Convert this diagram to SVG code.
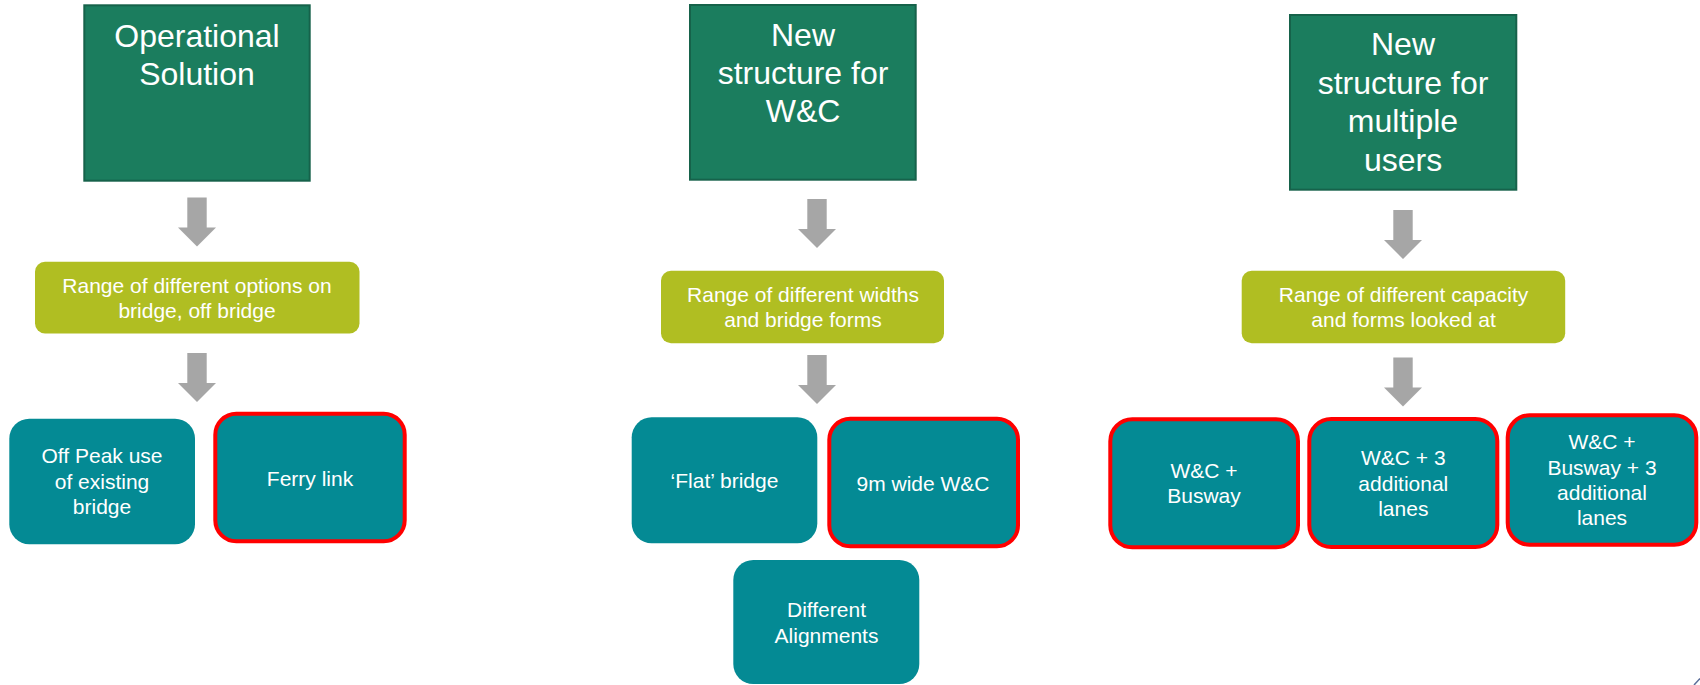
<svg xmlns="http://www.w3.org/2000/svg" width="1700" height="685" viewBox="0 0 1700 685">
<style>
.head{fill:#1B7D5E;stroke:#16624A;stroke-width:2}
.range{fill:#B0BE22}
.opt{fill:#048A94}
.sel{fill:#048A94;stroke:#FF0000;stroke-width:4}
.arrow{fill:#A6A6A6}
text{font-family:"Liberation Sans",Arial,sans-serif;fill:#FFFFFF;text-anchor:middle}
.t1{font-size:32px}
.t2{font-size:21px}
</style>
<defs>
<path id="blk" d="M-9.7,0 H9.7 V30 H19 L0,49 L-19,30 H-9.7 Z"/>
</defs>
<rect width="1700" height="685" fill="#FFFFFF"/>

<g id="connectors" class="arrow">
<use href="#blk" x="197" y="197.5"/>
<use href="#blk" x="197" y="353"/>
<use href="#blk" x="817" y="199"/>
<use href="#blk" x="817" y="355"/>
<use href="#blk" x="1403" y="210"/>
<use href="#blk" x="1403" y="357.5"/>
</g>

<g id="operational-solution">
<rect class="head" x="84.3" y="5.3" width="225.4" height="175.4"/>
<text class="t1" x="197" y="46.7">Operational</text>
<text class="t1" x="197" y="85">Solution</text>
</g>
<g id="range-options">
<rect class="range" x="35" y="261.7" width="324.5" height="71.8" rx="10"/>
<text class="t2" x="197" y="292.7">Range of different options on</text>
<text class="t2" x="197" y="318.3">bridge, off bridge</text>
</g>
<g id="off-peak">
<rect class="opt" x="9.3" y="418.7" width="185.7" height="125.5" rx="20"/>
<text class="t2" x="102" y="463.3">Off Peak use</text>
<text class="t2" x="102" y="488.5">of existing</text>
<text class="t2" x="102" y="513.5">bridge</text>
</g>
<g id="ferry-link">
<rect class="sel" x="215.3" y="413.7" width="189.4" height="127.6" rx="21"/>
<text class="t2" x="310" y="486">Ferry link</text>
</g>

<g id="new-structure-wc">
<rect class="head" x="690" y="5" width="225.7" height="174.7"/>
<text class="t1" x="803" y="45.5">New</text>
<text class="t1" x="803" y="83.5">structure for</text>
<text class="t1" x="803" y="122">W&amp;C</text>
</g>
<g id="range-widths">
<rect class="range" x="661" y="270.7" width="283" height="72.6" rx="10"/>
<text class="t2" x="803" y="301.7">Range of different widths</text>
<text class="t2" x="803" y="327">and bridge forms</text>
</g>
<g id="flat-bridge">
<rect class="opt" x="631.7" y="417.3" width="185.6" height="126" rx="20"/>
<text class="t2" x="724.5" y="488.3">‘Flat’ bridge</text>
</g>
<g id="wide-wc">
<rect class="sel" x="829.3" y="418.7" width="188.7" height="127.6" rx="21"/>
<text class="t2" x="923" y="490.7">9m wide W&amp;C</text>
</g>
<g id="different-alignments">
<rect class="opt" x="733.3" y="560" width="186" height="124" rx="20"/>
<text class="t2" x="826.5" y="617.3">Different</text>
<text class="t2" x="826.5" y="643">Alignments</text>
</g>

<g id="new-structure-multiple">
<rect class="head" x="1290" y="15" width="226.3" height="174.7"/>
<text class="t1" x="1403" y="55">New</text>
<text class="t1" x="1403" y="93.5">structure for</text>
<text class="t1" x="1403" y="132">multiple</text>
<text class="t1" x="1403" y="170.5">users</text>
</g>
<g id="range-capacity">
<rect class="range" x="1241.7" y="270.7" width="323.5" height="72.6" rx="10"/>
<text class="t2" x="1403.5" y="301.7">Range of different capacity</text>
<text class="t2" x="1403.5" y="326.7">and forms looked at</text>
</g>
<g id="wc-busway">
<rect class="sel" x="1110.3" y="419.3" width="187.7" height="128" rx="22"/>
<text class="t2" x="1204" y="478.3">W&amp;C +</text>
<text class="t2" x="1204" y="503.3">Busway</text>
</g>
<g id="wc-3-lanes">
<rect class="sel" x="1309.3" y="419" width="188" height="128" rx="22"/>
<text class="t2" x="1403.3" y="465">W&amp;C + 3</text>
<text class="t2" x="1403.3" y="490.7">additional</text>
<text class="t2" x="1403.3" y="516">lanes</text>
</g>
<g id="wc-busway-3-lanes">
<rect class="sel" x="1507.7" y="415.3" width="188.6" height="129.4" rx="22"/>
<text class="t2" x="1602" y="449.3">W&amp;C +</text>
<text class="t2" x="1602" y="474.5">Busway + 3</text>
<text class="t2" x="1602" y="500">additional</text>
<text class="t2" x="1602" y="525">lanes</text>
</g>
<line x1="1694" y1="685" x2="1700" y2="678.5" stroke="#5B6E9A" stroke-width="1.5"/>
</svg>
